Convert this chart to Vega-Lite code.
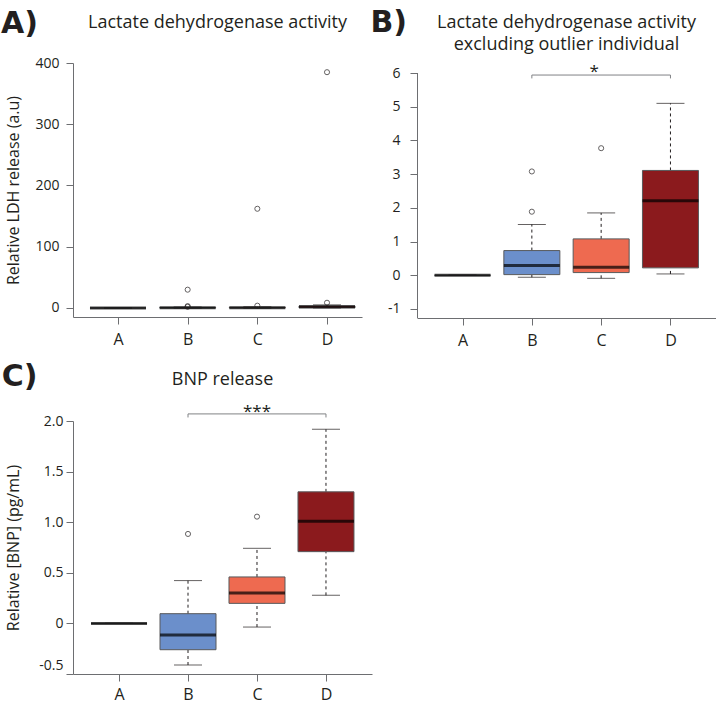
{
  "$schema": "https://vega.github.io/schema/vega-lite/v6.json",
  "padding": {"left": 0, "top": 8, "right": 0, "bottom": 3},
  "background": "white",
  "config": {
    "view": {"stroke": null},
    "font": "Open Sans",
    "axis": {"domainColor": "#6d6e71", "tickColor": "#6d6e71", "domainWidth": 1, "tickWidth": 1, "tickSize": 7, "labelColor": "#231f20", "titleColor": "#231f20", "labelFont": "Open Sans", "titleFont": "Open Sans", "titleFontWeight": "normal", "labelFontSize": 14, "titleFontSize": 16, "grid": false, "labelOverlap": false},
    "axisX": {"labelFontSize": 16, "labelPadding": 7, "labelAngle": 0}
  },
  "datasets": {
    "boxA": [
      {"grp": "A", "q1": 0, "med": 0, "q3": 0, "lo": 0, "hi": 0},
      {"grp": "B", "q1": 0.02, "med": 0.29, "q3": 0.73, "lo": -0.06, "hi": 1.52},
      {"grp": "C", "q1": 0.08, "med": 0.24, "q3": 1.08, "lo": -0.09, "hi": 1.85},
      {"grp": "D", "q1": 0.22, "med": 2.21, "q3": 3.3, "lo": 0.04, "hi": 5.1}
    ],
    "outA": [
      {"grp": "B", "v": 29.9}, {"grp": "B", "v": 1.9}, {"grp": "B", "v": 3.1},
      {"grp": "C", "v": 162}, {"grp": "C", "v": 3.8},
      {"grp": "D", "v": 385}, {"grp": "D", "v": 8.6}
    ],
    "boxB": [
      {"grp": "A", "q1": 0, "med": 0, "q3": 0, "lo": 0, "hi": 0},
      {"grp": "B", "q1": 0.02, "med": 0.287, "q3": 0.733, "lo": -0.06, "hi": 1.51},
      {"grp": "C", "q1": 0.08, "med": 0.24, "q3": 1.08, "lo": -0.09, "hi": 1.85},
      {"grp": "D", "q1": 0.22, "med": 2.21, "q3": 3.11, "lo": 0.04, "hi": 5.1}
    ],
    "outB": [{"grp": "B", "v": 1.886}, {"grp": "B", "v": 3.08}, {"grp": "C", "v": 3.77}],
    "axisB": [{"edge": 0, "lo": -1.267, "hi": 6}],
    "boxC": [
      {"grp": "A", "q1": 0, "med": 0, "q3": 0, "lo": 0, "hi": 0},
      {"grp": "B", "q1": -0.26, "med": -0.115, "q3": 0.096, "lo": -0.411, "hi": 0.423},
      {"grp": "C", "q1": 0.198, "med": 0.3, "q3": 0.459, "lo": -0.036, "hi": 0.742},
      {"grp": "D", "q1": 0.709, "med": 1.009, "q3": 1.3, "lo": 0.277, "hi": 1.918}
    ],
    "outC": [{"grp": "B", "v": 0.884}, {"grp": "C", "v": 1.055}],
    "sigB": [{"grp": "B", "grp2": "D", "y": 5.94}],
    "sigBends": [{"grp": "B", "y": 5.84, "y2": 5.94}, {"grp": "D", "y": 5.84, "y2": 5.94}],
    "starB": [{"grp": "C", "label": "*", "y": 5.89}],
    "sigC": [{"grp": "B", "grp2": "D", "y": 2.07}],
    "sigCends": [{"grp": "B", "y": 2.035, "y2": 2.07}, {"grp": "D", "y": 2.035, "y2": 2.07}],
    "starC": [{"grp": "C", "label": "***", "y": 2.04}]
  },
  "columns": 2,
  "align": "none",
  "spacing": {"row": 13, "column": -2},
  "concat": [
    {
      "title": {"text": "A)", "fontSize": 30, "fontWeight": "bold", "anchor": "start", "frame": "bounds", "offset": -24.5, "dx": -5, "color": "#231f20", "font": "DejaVu Sans"},
      "vconcat": [
        {
          "width": 289, "height": 254,
          "title": {"text": "Lactate dehydrogenase activity", "fontSize": 18, "fontWeight": "normal", "anchor": "middle", "frame": "group", "offset": 24, "color": "#231f20", "font": "Open Sans"},
          "encoding": {"x": {"field": "grp", "type": "nominal", "title": null, "scale": {"type": "point", "domain": ["A", "B", "C", "D"], "padding": 0.574, "align": 0.5625}}},
          "layer": [
            {"data": {"name": "boxA"}, "mark": {"type": "rule", "strokeDash": [3, 3], "color": "#231f20"},
             "encoding": {"y": {"field": "q3", "type": "quantitative", "scale": {"domain": [-14.7, 400], "nice": false, "zero": false}, "axis": {"title": "Relative LDH release (a.u)", "values": [0, 100, 200, 300, 400], "tickCount": 12, "labelOverlap": false, "labelPadding": 7, "titlePadding": 13}}, "y2": {"field": "hi"}}},
            {"data": {"name": "boxA"}, "mark": {"type": "rule", "strokeDash": [3, 3], "color": "#231f20"},
             "encoding": {"y": {"field": "lo", "type": "quantitative", "scale": {"domain": [-14.7, 400], "nice": false, "zero": false}}, "y2": {"field": "q1"}}},
            {"data": {"name": "boxA"}, "mark": {"type": "tick", "size": 28, "thickness": 1, "color": "#231f20", "orient": "horizontal"},
             "encoding": {"y": {"field": "hi", "type": "quantitative", "scale": {"domain": [-14.7, 400], "nice": false, "zero": false}}}},
            {"data": {"name": "boxA"}, "mark": {"type": "tick", "size": 28, "thickness": 1, "color": "#231f20", "orient": "horizontal"},
             "encoding": {"y": {"field": "lo", "type": "quantitative", "scale": {"domain": [-14.7, 400], "nice": false, "zero": false}}}},
            {"data": {"name": "boxA"}, "mark": {"type": "bar", "size": 56, "stroke": "#58595b", "strokeWidth": 1},
             "encoding": {"y": {"field": "q1", "type": "quantitative", "scale": {"domain": [-14.7, 400], "nice": false, "zero": false}}, "y2": {"field": "q3"},
                          "color": {"field": "grp", "type": "nominal", "scale": {"domain": ["A", "B", "C", "D"], "range": ["#ffffff", "#6b8fcb", "#ee6a50", "#8b1a1d"]}, "legend": null}}},
            {"data": {"name": "boxA"}, "mark": {"type": "tick", "size": 56, "thickness": 3, "color": "#000000", "orient": "horizontal"},
             "encoding": {"y": {"field": "med", "type": "quantitative", "scale": {"domain": [-14.7, 400], "nice": false, "zero": false}}}},
            {"data": {"name": "outA"}, "mark": {"type": "point", "shape": "circle", "filled": false, "size": 26, "stroke": "#231f20", "strokeWidth": 1},
             "encoding": {"y": {"field": "v", "type": "quantitative", "scale": {"domain": [-14.7, 400], "nice": false, "zero": false}}}}
          ]
        }
      ]
    },
    {
      "title": {"text": "B)", "fontSize": 30, "fontWeight": "bold", "anchor": "start", "frame": "bounds", "offset": -24.5, "dx": -17, "color": "#231f20", "font": "DejaVu Sans"},
      "vconcat": [
        {
          "width": 299, "height": 255,
          "title": {"text": ["Lactate dehydrogenase activity", "excluding outlier individual"], "lineHeight": 22, "fontSize": 18, "fontWeight": "normal", "anchor": "middle", "frame": "group", "offset": 9.2, "color": "#231f20", "font": "Open Sans"},
          "resolve": {"scale": {"x": "independent"}},
          "layer": [
            {
              "encoding": {"x": {"field": "grp", "type": "nominal", "title": null, "scale": {"type": "point", "domain": ["A", "B", "C", "D"], "padding": 0.657, "align": 0.5}}},
              "layer": [
                {"data": {"name": "boxB"}, "mark": {"type": "rule", "strokeDash": [3, 3], "color": "#231f20"},
                 "encoding": {"y": {"field": "q3", "type": "quantitative", "scale": {"domain": [-1.267, 6.297], "nice": false, "zero": false}, "axis": {"title": null, "domain": false, "values": [-1, 0, 1, 2, 3, 4, 5, 6], "tickCount": 12, "labelOverlap": false, "labelExpr": "datum.value < 0 ? '-' + abs(datum.value) : '' + datum.value", "labelPadding": 10}}, "y2": {"field": "hi"}}},
                {"data": {"name": "boxB"}, "mark": {"type": "rule", "strokeDash": [3, 3], "color": "#231f20"},
                 "encoding": {"y": {"field": "lo", "type": "quantitative", "scale": {"domain": [-1.267, 6.297], "nice": false, "zero": false}}, "y2": {"field": "q1"}}},
                {"data": {"name": "boxB"}, "mark": {"type": "tick", "size": 28, "thickness": 1, "color": "#231f20", "orient": "horizontal"},
                 "encoding": {"y": {"field": "hi", "type": "quantitative", "scale": {"domain": [-1.267, 6.297], "nice": false, "zero": false}}}},
                {"data": {"name": "boxB"}, "mark": {"type": "tick", "size": 28, "thickness": 1, "color": "#231f20", "orient": "horizontal"},
                 "encoding": {"y": {"field": "lo", "type": "quantitative", "scale": {"domain": [-1.267, 6.297], "nice": false, "zero": false}}}},
                {"data": {"name": "boxB"}, "mark": {"type": "bar", "size": 56, "stroke": "#58595b", "strokeWidth": 1},
                 "encoding": {"y": {"field": "q1", "type": "quantitative", "scale": {"domain": [-1.267, 6.297], "nice": false, "zero": false}}, "y2": {"field": "q3"},
                              "color": {"field": "grp", "type": "nominal", "scale": {"domain": ["A", "B", "C", "D"], "range": ["#ffffff", "#6b8fcb", "#ee6a50", "#8b1a1d"]}, "legend": null}}},
                {"data": {"name": "boxB"}, "mark": {"type": "tick", "size": 56, "thickness": 3, "color": "#000000", "orient": "horizontal"},
                 "encoding": {"y": {"field": "med", "type": "quantitative", "scale": {"domain": [-1.267, 6.297], "nice": false, "zero": false}}}},
                {"data": {"name": "outB"}, "mark": {"type": "point", "shape": "circle", "filled": false, "size": 26, "stroke": "#231f20", "strokeWidth": 1},
                 "encoding": {"y": {"field": "v", "type": "quantitative", "scale": {"domain": [-1.267, 6.297], "nice": false, "zero": false}}}},
                {"data": {"name": "sigB"}, "mark": {"type": "rule", "color": "#808285", "strokeWidth": 1},
                 "encoding": {"x2": {"field": "grp2"}, "y": {"field": "y", "type": "quantitative", "scale": {"domain": [-1.267, 6.297], "nice": false, "zero": false}}}},
                {"data": {"name": "sigBends"}, "mark": {"type": "rule", "color": "#808285", "strokeWidth": 1},
                 "encoding": {"y": {"field": "y", "type": "quantitative", "scale": {"domain": [-1.267, 6.297], "nice": false, "zero": false}}, "y2": {"field": "y2"}}},
                {"data": {"name": "starB"}, "mark": {"type": "text", "fontSize": 17, "baseline": "alphabetic", "dx": -7, "color": "#231f20", "font": "Open Sans"},
                 "encoding": {"text": {"field": "label"}, "y": {"field": "y", "type": "quantitative", "scale": {"domain": [-1.267, 6.297], "nice": false, "zero": false}}}}
              ]
            },
            {"data": {"name": "axisB"}, "mark": {"type": "rule", "color": "#6d6e71", "strokeWidth": 1},
             "encoding": {"x": {"field": "edge", "type": "quantitative", "scale": {"domain": [-0.5, 298.5], "nice": false, "zero": false}, "axis": null},
                          "y": {"field": "lo", "type": "quantitative", "scale": {"domain": [-1.267, 6.297], "nice": false, "zero": false}}, "y2": {"field": "hi"}}}
          ]
        }
      ]
    },
    {
      "title": {"text": "C)", "fontSize": 30, "fontWeight": "bold", "anchor": "start", "frame": "bounds", "offset": -20.5, "dx": -4, "color": "#231f20", "font": "DejaVu Sans"},
      "vconcat": [
        {
          "width": 299, "height": 253,
          "title": {"text": "BNP release", "fontSize": 18, "fontWeight": "normal", "anchor": "middle", "frame": "group", "offset": 13.8, "color": "#231f20", "font": "Open Sans"},
          "encoding": {"x": {"field": "grp", "type": "nominal", "title": null, "scale": {"type": "point", "domain": ["A", "B", "C", "D"], "padding": 0.667, "align": 0.5}, "axis": {"labelPadding": 5}}},
          "layer": [
            {"data": {"name": "boxC"}, "mark": {"type": "rule", "strokeDash": [3, 3], "color": "#231f20"},
             "encoding": {"y": {"field": "q3", "type": "quantitative", "scale": {"domain": [-0.5, 2], "nice": false, "zero": false}, "axis": {"title": "Relative [BNP] (pg/mL)", "values": [-0.5, 0, 0.5, 1, 1.5, 2], "tickCount": 12, "labelOverlap": false, "labelExpr": "datum.value == 0 ? '0' : (datum.value < 0 ? '-' : '') + format(abs(datum.value), '.1f')", "labelOffset": {"condition": {"test": "datum.value < 0", "value": -9}, "value": 0}, "labelPadding": 3, "titlePadding": 17}}, "y2": {"field": "hi"}}},
            {"data": {"name": "boxC"}, "mark": {"type": "rule", "strokeDash": [3, 3], "color": "#231f20"},
             "encoding": {"y": {"field": "lo", "type": "quantitative", "scale": {"domain": [-0.5, 2], "nice": false, "zero": false}}, "y2": {"field": "q1"}}},
            {"data": {"name": "boxC"}, "mark": {"type": "tick", "size": 28, "thickness": 1, "color": "#231f20", "orient": "horizontal"},
             "encoding": {"y": {"field": "hi", "type": "quantitative", "scale": {"domain": [-0.5, 2], "nice": false, "zero": false}}}},
            {"data": {"name": "boxC"}, "mark": {"type": "tick", "size": 28, "thickness": 1, "color": "#231f20", "orient": "horizontal"},
             "encoding": {"y": {"field": "lo", "type": "quantitative", "scale": {"domain": [-0.5, 2], "nice": false, "zero": false}}}},
            {"data": {"name": "boxC"}, "mark": {"type": "bar", "size": 56, "stroke": "#58595b", "strokeWidth": 1},
             "encoding": {"y": {"field": "q1", "type": "quantitative", "scale": {"domain": [-0.5, 2], "nice": false, "zero": false}}, "y2": {"field": "q3"},
                          "color": {"field": "grp", "type": "nominal", "scale": {"domain": ["A", "B", "C", "D"], "range": ["#ffffff", "#6b8fcb", "#ee6a50", "#8b1a1d"]}, "legend": null}}},
            {"data": {"name": "boxC"}, "mark": {"type": "tick", "size": 56, "thickness": 3, "color": "#000000", "orient": "horizontal"},
             "encoding": {"y": {"field": "med", "type": "quantitative", "scale": {"domain": [-0.5, 2], "nice": false, "zero": false}}}},
            {"data": {"name": "outC"}, "mark": {"type": "point", "shape": "circle", "filled": false, "size": 26, "stroke": "#231f20", "strokeWidth": 1},
             "encoding": {"y": {"field": "v", "type": "quantitative", "scale": {"domain": [-0.5, 2], "nice": false, "zero": false}}}},
            {"data": {"name": "sigC"}, "mark": {"type": "rule", "color": "#808285", "strokeWidth": 1},
             "encoding": {"x2": {"field": "grp2"}, "y": {"field": "y", "type": "quantitative", "scale": {"domain": [-0.5, 2], "nice": false, "zero": false}}}},
            {"data": {"name": "sigCends"}, "mark": {"type": "rule", "color": "#808285", "strokeWidth": 1},
             "encoding": {"y": {"field": "y", "type": "quantitative", "scale": {"domain": [-0.5, 2], "nice": false, "zero": false}}, "y2": {"field": "y2"}}},
            {"data": {"name": "starC"}, "mark": {"type": "text", "fontSize": 17, "baseline": "alphabetic", "color": "#231f20", "font": "Open Sans"},
             "encoding": {"text": {"field": "label"}, "y": {"field": "y", "type": "quantitative", "scale": {"domain": [-0.5, 2], "nice": false, "zero": false}}}}
          ]
        }
      ]
    }
  ]
}
